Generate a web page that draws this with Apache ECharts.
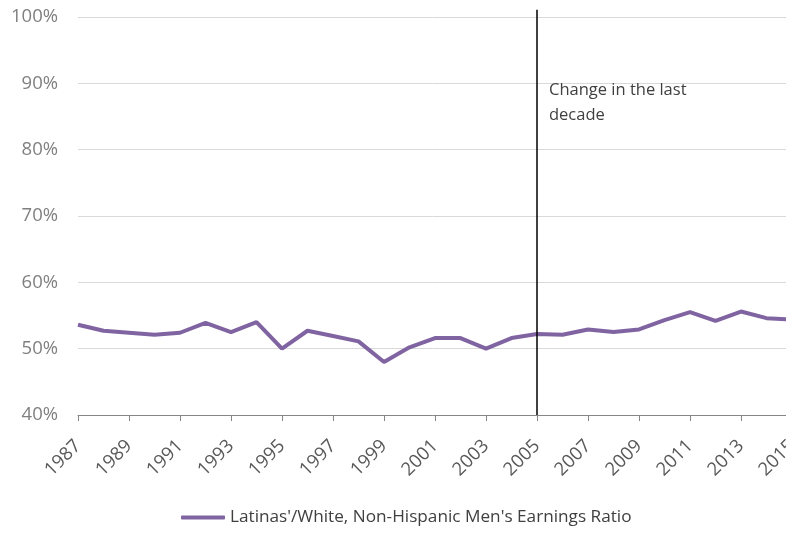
<!DOCTYPE html>
<html>
<head>
<meta charset="utf-8">
<script src="https://cdn.jsdelivr.net/npm/echarts@6/dist/echarts.min.js"></script>
<style>html,body{margin:0;padding:0;background:#fff;}#chart{width:786px;height:535px;}</style>
</head>
<body>
<div id="chart"></div>
<script>
const years = ['1987','1988','1989','1990','1991','1992','1993','1994','1995','1996','1997','1998','1999','2000','2001','2002','2003','2004','2005','2006','2007','2008','2009','2010','2011','2012','2013','2014','2015'];
const ratio = [53.6,52.7,52.4,52.1,52.4,53.9,52.5,54.0,50.0,52.7,51.9,51.1,48.0,50.2,51.6,51.6,50.0,51.6,52.2,52.1,52.9,52.5,52.9,54.3,55.5,54.2,55.6,54.6,54.4];
const seriesName = "Latinas'/White, Non-Hispanic Men's Earnings Ratio";
const markerYear = '2005';
const annotation = 'Change in the last\ndecade';
const yTicks = [40, 50, 60, 70, 80, 90, 100];

const FONT = 'Open Sans';
const chart = echarts.init(document.getElementById('chart'), null, {renderer: 'canvas'});
chart.setOption({
  animation: false,
  textStyle: {fontFamily: FONT},
  grid: {left: 78, right: -6, top: 17, bottom: 120, containLabel: false, outerBoundsMode: 'none'},
  legend: {
    bottom: 4, left: 176,
    itemWidth: 44, itemHeight: 4, itemGap: 4,
    icon: 'roundRect',
    textStyle: {fontFamily: FONT, fontSize: 17.2, color: '#404040'},
    data: [seriesName]
  },
  xAxis: {
    type: 'category', data: years, boundaryGap: false,
    axisLine: {lineStyle: {color: '#868686', width: 1}},
    axisTick: {show: true, interval: 1, length: 6, lineStyle: {color: '#868686'}},
    axisLabel: {interval: 1, rotate: 45, fontSize: 18.5, color: '#595959', fontFamily: FONT, margin: 28},
    splitLine: {show: false}
  },
  yAxis: {
    type: 'value', min: yTicks[0], max: yTicks[yTicks.length-1], interval: 10,
    axisLine: {show: false}, axisTick: {show: false},
    axisLabel: {formatter: '{value}%', fontSize: 18.5, color: '#808080', fontFamily: FONT, margin: 20},
    splitLine: {lineStyle: {color: '#d9d9d9', width: 1}}
  },
  series: [{
    name: seriesName, type: 'line', data: ratio,
    symbol: 'none', clip: false,
    lineStyle: {color: '#8064a2', width: 4},
    itemStyle: {color: '#8064a2'}
  }]
});
const pBottom = chart.convertToPixel({gridIndex: 0}, [markerYear, 40]);
const pTop = chart.convertToPixel({gridIndex: 0}, [markerYear, 101.1]);
const pText = chart.convertToPixel({gridIndex: 0}, [markerYear, 90]);
chart.setOption({
  graphic: [
    {type: 'line', shape: {x1: pBottom[0], y1: pBottom[1], x2: pTop[0], y2: pTop[1]},
     style: {stroke: '#000', lineWidth: 1.5}, z: 10},
    {type: 'text', left: pText[0] + 12, top: pText[1] - 6,
     style: {text: annotation, fontFamily: FONT, fontSize: 16.5, lineHeight: 25, fill: '#404040'}}
  ]
});
</script>
</body>
</html>
